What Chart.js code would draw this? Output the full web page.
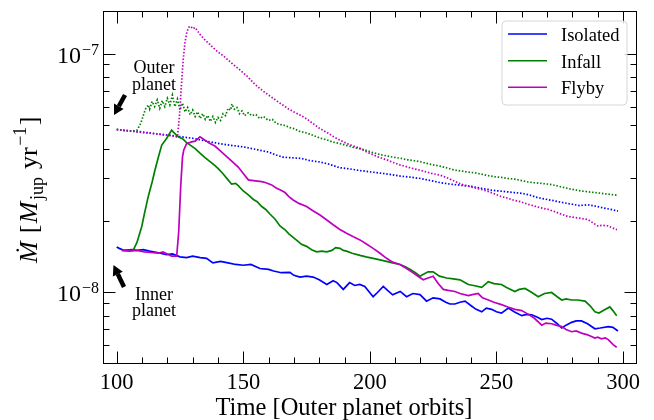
<!DOCTYPE html>
<html>
<head>
<meta charset="utf-8">
<script src="https://cdn.jsdelivr.net/npm/chart.js@4.4.1/dist/chart.umd.min.js"></script>
<style>
  html, body { margin: 0; padding: 0; background: #fff; }
  #wrap { width: 654px; height: 420px; }
</style>
</head>
<body>
<div id="wrap"><canvas id="mdotChart" width="654" height="420"></canvas></div>
<script>
// accretion rates, values in units of 1e-8 Mjup/yr, time in outer planet orbits
const UNIT = 1e-8;
const xTickValues = [100, 150, 200, 250, 300];
const yDecades = [1e-8, 1e-7];
const seriesNames = ['Isolated', 'Infall', 'Flyby'];
const seriesColors = ['#0000ff', '#008000', '#bf00bf'];
const xTitle = 'Time [Outer planet orbits]';

// outer planet (dotted)
const isolatedOuter = [[100,4.81],[105,4.75],[110,4.70],[115,4.62],[120,4.56],[125,4.49],[130,4.42],[135,4.31],[140,4.21],[145,4.13],[150,4.07],[155,3.97],[160,3.87],[163,3.76],[166,3.68],[170,3.66],[173,3.64],[176,3.57],[180,3.52],[184,3.44],[188,3.33],[192,3.29],[196,3.24],[200,3.20],[204,3.16],[208,3.12],[212,3.07],[216,3.04],[220,3.00],[224,2.94],[228,2.88],[232,2.84],[236,2.81],[240,2.78],[244,2.73],[248,2.68],[251,2.66],[254,2.64],[257,2.62],[260,2.60],[263,2.56],[266,2.50],[269,2.46],[272,2.43],[276,2.38],[280,2.34],[283,2.31],[286,2.33],[289,2.30],[292,2.26],[295,2.23],[298,2.19]];

const infallOuter = [[100,4.81],[103,4.76],[106,4.74],[108,4.78],[109.5,5.1],[110.5,5.5],[111.5,5.9],[112.5,6.1],[113,5.85],[114,6.3],[115,6.0],[116,6.4],[117,5.9],[118,6.35],[119,6.0],[120,6.5],[121,6.1],[122,6.7],[123,6.0],[124,6.45],[125,5.8],[126,6.2],[127,5.7],[128,5.95],[129,5.55],[130,5.8],[131,5.45],[132,5.7],[133,5.35],[134,5.6],[135,5.3],[136,5.5],[137,5.2],[138,5.45],[139,5.15],[140,5.4],[141,5.25],[142,5.6],[143,5.5],[144,5.9],[145,5.8],[145.5,6.15],[146.5,5.85],[147.5,5.95],[148.5,5.6],[149.5,5.75],[150.5,5.5],[152,5.65],[153.3,5.5],[155,5.55],[156.5,5.35],[158,5.45],[159.9,5.25],[161.5,5.3],[163,5.1],[164.5,5.05],[166.5,5.0],[168.5,4.9],[170,4.85],[172.4,4.72],[175,4.65],[177.5,4.55],[180.3,4.43],[183,4.35],[185.5,4.26],[188.2,4.2],[191,4.12],[193.5,4.05],[196.1,4.0],[199,3.92],[201.5,3.84],[204,3.78],[207,3.72],[209.5,3.68],[211.9,3.65],[215,3.59],[217.5,3.56],[219.8,3.53],[222.5,3.47],[225,3.42],[227.7,3.38],[230.5,3.32],[233.6,3.25],[236.5,3.22],[238.5,3.19],[241.5,3.17],[244.5,3.12],[247,3.08],[249.4,3.05],[252,3.03],[254.5,3.0],[257.3,2.98],[260,2.94],[262.5,2.90],[265.2,2.88],[268,2.86],[270.5,2.84],[273.1,2.81],[276,2.76],[278.5,2.72],[281,2.69],[283.5,2.66],[286,2.64],[288.9,2.62],[291.5,2.60],[294,2.58],[296.8,2.56],[298,2.55]];

const flybyOuter = [[100,4.81],[105,4.74],[110,4.67],[115,4.62],[120,4.55],[122,4.52],[124,4.47],[124.8,5.5],[125.5,7.2],[126.3,9.5],[127,11.2],[127.8,12.4],[128.5,12.9],[129.3,13.0],[130,12.7],[131,12.85],[132,12.4],[133,12.0],[134.9,11.4],[136.5,11.0],[138,10.6],[140,10.15],[142,9.8],[144,9.4],[146,9.0],[148,8.66],[150,8.3],[152,7.95],[154,7.55],[155.8,7.25],[158,6.95],[160,6.7],[161.8,6.5],[163.7,6.28],[166,6.05],[168,5.85],[170,5.7],[172.4,5.53],[175,5.33],[177.5,5.1],[180.3,4.85],[183,4.68],[185.5,4.5],[188.2,4.34],[191,4.2],[193.5,4.1],[196.1,4.01],[199,3.86],[201.5,3.76],[204,3.67],[207,3.58],[209.5,3.49],[211.9,3.42],[215,3.35],[217.5,3.29],[219.8,3.25],[222.5,3.19],[225,3.14],[227.7,3.10],[230.5,3.02],[233.6,2.92],[236,2.84],[238.8,2.79],[241.5,2.74],[244,2.70],[246.6,2.65],[249.5,2.58],[252,2.52],[254.5,2.48],[257,2.43],[259.5,2.40],[262.4,2.34],[265,2.30],[267.5,2.26],[270.3,2.23],[273,2.18],[275.5,2.13],[278.2,2.08],[281,2.06],[283.5,2.04],[286.1,2.02],[288,1.96],[290,1.90],[292,1.91],[294,1.90],[296,1.86],[297.6,1.83]];

// inner planet (solid)
const isolatedInner = [[100,1.55],[101,1.53],[103,1.50],[106,1.51],[108,1.50],[110.5,1.51],[113,1.49],[116,1.47],[119.7,1.44],[122,1.45],[125,1.41],[127.6,1.40],[130,1.42],[133,1.40],[135.5,1.39],[138,1.33],[141,1.35],[144,1.33],[147,1.31],[150,1.30],[153,1.31],[156.6,1.26],[160,1.25],[162,1.23],[165,1.21],[168.4,1.215],[170,1.18],[172.4,1.16],[175,1.17],[177.6,1.16],[180,1.13],[183,1.08],[185.5,1.12],[187,1.10],[189.5,1.03],[192,1.10],[194,1.07],[196,1.08],[198,1.06],[201.3,0.96],[203,1.0],[205.3,1.06],[207,1.02],[209,0.978],[212,1.01],[214.5,0.96],[217,0.99],[219.8,0.98],[222.4,0.92],[225,0.95],[227.7,0.94],[230,0.91],[231.6,0.895],[233.6,0.895],[235.6,0.91],[237.6,0.92],[240,0.88],[242,0.85],[244.2,0.83],[246,0.86],[248.1,0.85],[250,0.83],[252,0.82],[254.7,0.86],[257,0.83],[260,0.80],[262,0.81],[263.9,0.807],[266,0.79],[267.9,0.77],[270,0.78],[271.8,0.773],[274,0.74],[275.8,0.71],[277.5,0.73],[279.7,0.75],[281.5,0.76],[283.6,0.76],[286,0.74],[288.9,0.705],[291,0.71],[294.2,0.72],[296,0.715],[298,0.69]];

const infallInner = [[102,1.50],[104,1.50],[106.5,1.50],[108,1.62],[109.9,1.89],[111,2.15],[112.5,2.53],[114,2.90],[115.1,3.25],[116.5,3.70],[117.8,4.14],[119.7,4.41],[121,4.65],[121.7,4.78],[122.5,4.68],[124.3,4.48],[126,4.40],[127.5,4.25],[129.6,4.10],[131,4.00],[133,3.82],[134.9,3.67],[137,3.52],[138.5,3.42],[140.1,3.30],[142,3.14],[144,2.96],[145.4,2.84],[147,2.86],[148,2.80],[150,2.66],[152,2.56],[154,2.45],[155.5,2.40],[157.3,2.29],[159,2.22],[160.5,2.13],[162.5,2.03],[164.5,1.90],[166.5,1.83],[168,1.76],[169.7,1.70],[171.5,1.64],[173,1.59],[175,1.56],[177,1.51],[179,1.48],[181,1.49],[183,1.48],[185,1.50],[186.5,1.54],[188.2,1.53],[189.5,1.50],[190.8,1.49],[193,1.46],[196.1,1.43],[198.5,1.41],[201.3,1.39],[204,1.37],[206.6,1.35],[209,1.33],[211.9,1.31],[214,1.28],[215.8,1.25],[218,1.21],[219.8,1.17],[221,1.19],[223,1.22],[225,1.22],[227.5,1.17],[230.3,1.15],[233,1.14],[235.6,1.13],[237,1.11],[238.9,1.08],[241,1.07],[244.2,1.05],[246.8,1.11],[249,1.09],[252,1.08],[254,1.05],[257.3,1.01],[259,1.03],[261.3,1.04],[264,1.00],[266.5,0.96],[269,0.99],[271.8,1.00],[274,0.96],[275.8,0.93],[277.5,0.94],[279.7,0.93],[282,0.93],[285,0.92],[287,0.88],[288.9,0.83],[290.5,0.82],[292.2,0.84],[294.8,0.87],[296,0.84],[297.5,0.80]];

const flybyInner = [[102,1.50],[105,1.49],[108,1.50],[111,1.48],[113.5,1.47],[116.3,1.46],[118.3,1.48],[120,1.45],[121.7,1.42],[123.7,1.42],[124.5,1.80],[125.3,2.80],[126,3.70],[126.5,3.95],[127.6,4.20],[129.6,4.27],[131,4.30],[132.9,4.48],[134.9,4.34],[136.5,4.22],[138.8,4.10],[140.5,3.95],[142.8,3.76],[145,3.58],[148,3.35],[150,3.15],[152,2.96],[154,2.94],[157.3,2.91],[159,2.88],[161.2,2.82],[163,2.74],[164.5,2.69],[166.5,2.62],[168,2.52],[169.7,2.44],[172,2.36],[175,2.29],[177.5,2.20],[180.3,2.11],[183,2.01],[185.5,1.92],[188,1.84],[190.8,1.77],[193.5,1.71],[196.1,1.66],[198.5,1.60],[201.3,1.53],[204,1.46],[206.6,1.39],[209,1.34],[211.9,1.31],[214.5,1.26],[217.1,1.21],[219,1.17],[221.1,1.13],[223,1.15],[225,1.17],[227,1.09],[229,1.03],[231,1.02],[233.6,1.01],[235.6,0.99],[238.9,0.97],[240.5,0.98],[242.8,0.99],[244.5,0.95],[246.8,0.93],[249,0.91],[252,0.89],[254.5,0.87],[257.3,0.85],[260,0.84],[262.6,0.81],[265,0.78],[267.9,0.73],[269.5,0.745],[271.8,0.74],[273.5,0.73],[275.8,0.72],[277.5,0.70],[279.7,0.685],[281.5,0.69],[283.6,0.676],[286,0.665],[288.9,0.645],[290,0.65],[291.5,0.64],[293,0.645],[294.2,0.635],[296.1,0.605],[297.5,0.59]];

const SERIF = "'Liberation Serif', 'Times New Roman', 'DejaVu Serif', serif";

function makeSet(label, color, pairs, dotted, order) {
  return {
    label: label,
    data: pairs.map(p => ({ x: p[0], y: p[1] * UNIT })),
    borderColor: color,
    backgroundColor: color,
    borderWidth: dotted ? 1.7 : 1.7,
    borderDash: dotted ? [1.5, 1.8] : [],
    pointRadius: 0,
    tension: 0,
    fill: false,
    order: order
  };
}

// frame, inward ticks, labels, legend and notes
const decorPlugin = {
  id: 'decor',
  afterDraw(chart) {
    const { ctx, chartArea: a, scales } = chart;
    const xs = scales.x, ys = scales.y;
    ctx.save();
    ctx.strokeStyle = '#000';
    ctx.lineWidth = 1;

    const L = Math.round(a.left) + 0.5, R = Math.round(a.right) - 0.5;
    const T = Math.round(a.top) + 0.5, B = Math.round(a.bottom) - 0.5;
    ctx.strokeRect(L, T, R - L, B - T);

    // x ticks (bottom + top)
    ctx.beginPath();
    for (let t = 100; t <= 300; t += 10) {
      const px = Math.round(xs.getPixelForValue(t)) + 0.5;
      const len = (t % 50 === 0) ? 12 : 6;
      ctx.moveTo(px, B); ctx.lineTo(px, B - len);
      ctx.moveTo(px, T); ctx.lineTo(px, T + len);
    }
    // y ticks (left + right)
    [1e-9, 1e-8, 1e-7].forEach(dec => {
      for (let m = 1; m <= 9; m++) {
        const v = m * dec;
        if (v < ys.min || v > ys.max) continue;
        const py = Math.round(ys.getPixelForValue(v)) + 0.5;
        const len = (m === 1) ? 12 : 6;
        ctx.moveTo(L, py); ctx.lineTo(L + len, py);
        ctx.moveTo(R, py); ctx.lineTo(R - len, py);
      }
    });
    ctx.stroke();

    // y tick labels 10^-n
    ctx.fillStyle = '#000';
    ctx.textBaseline = 'alphabetic';
    yDecades.forEach(v => {
      const py = ys.getPixelForValue(v);
      const exp = '\u2212' + Math.round(-Math.log10(v));
      ctx.font = '16px ' + SERIF;
      const ew = ctx.measureText(exp).width;
      ctx.textAlign = 'left';
      ctx.fillText(exp, 99 - ew, py + 1);
      ctx.font = '24px ' + SERIF;
      ctx.textAlign = 'right';
      ctx.fillText('10', 99 - ew - 1, py + 9);
    });

    // x title
    ctx.font = '24.5px ' + SERIF;
    ctx.textAlign = 'center';
    ctx.fillText(xTitle, 344, 415);

    // y title: M-dot [M_jup yr^-1]
    ctx.save();
    ctx.translate(37, 189);
    ctx.rotate(-Math.PI / 2);
    const big = '26px ' + SERIF, bigIt = 'italic 26px ' + SERIF, small = '18px ' + SERIF;
    const parts = [
      { s: 'M', f: bigIt, dy: 0, dot: true },
      { s: ' [', f: big, dy: 0 },
      { s: 'M', f: bigIt, dy: 0 },
      { s: 'jup', f: small, dy: 6 },
      { s: ' yr', f: big, dy: 0 },
      { s: '\u22121', f: small, dy: -11 },
      { s: ']', f: big, dy: 0 }
    ];
    let total = 0;
    parts.forEach(p => { ctx.font = p.f; p.w = ctx.measureText(p.s).width; total += p.w + 1.5; });
    let cx = -total / 2;
    ctx.textAlign = 'left';
    parts.forEach(p => {
      ctx.font = p.f;
      ctx.fillText(p.s, cx, p.dy);
      if (p.dot) {
        ctx.font = big;
        ctx.textAlign = 'center';
        ctx.fillText('\u02D9', cx + p.w / 2 + 2, -4);
        ctx.textAlign = 'left';
      }
      cx += p.w + 1.5;
    });
    ctx.restore();

    // legend box
    const bx = 502, by = 21, bw = 125, bh = 84, r = 4;
    ctx.beginPath();
    ctx.moveTo(bx + r, by);
    ctx.arcTo(bx + bw, by, bx + bw, by + bh, r);
    ctx.arcTo(bx + bw, by + bh, bx, by + bh, r);
    ctx.arcTo(bx, by + bh, bx, by, r);
    ctx.arcTo(bx, by, bx + bw, by, r);
    ctx.closePath();
    ctx.fillStyle = 'rgba(255,255,255,0.8)';
    ctx.fill();
    ctx.strokeStyle = '#d6d6d6';
    ctx.lineWidth = 1;
    ctx.stroke();
    const rows = [34, 60.7, 87.3];
    ctx.font = '18.5px ' + SERIF;
    ctx.textAlign = 'left';
    seriesNames.forEach((name, i) => {
      ctx.strokeStyle = seriesColors[i];
      ctx.lineWidth = 1.5;
      ctx.beginPath();
      ctx.moveTo(508, rows[i]); ctx.lineTo(547, rows[i]);
      ctx.stroke();
      ctx.fillStyle = '#000';
      ctx.fillText(name, 561, rows[i] + 7);
    });

    // notes and arrows
    ctx.fillStyle = '#000';
    ctx.font = '18px ' + SERIF;
    ctx.textAlign = 'center';
    ctx.fillText('Outer', 154, 73);
    ctx.fillText('planet', 154, 90);
    ctx.fillText('Inner', 154, 300);
    ctx.fillText('planet', 154, 316);
    drawArrow(ctx, 125, 95, 114, 115);
    drawArrow(ctx, 124, 287, 113.5, 265);
    ctx.restore();
  }
};

function drawArrow(ctx, x0, y0, x1, y1) {
  const ang = Math.atan2(y1 - y0, x1 - x0);
  const head = 10, hw = 5.5;
  const bx = x1 - head * Math.cos(ang), by = y1 - head * Math.sin(ang);
  ctx.strokeStyle = '#000';
  ctx.lineWidth = 4.5;
  ctx.lineCap = 'butt';
  ctx.beginPath();
  ctx.moveTo(x0, y0); ctx.lineTo(bx, by);
  ctx.stroke();
  ctx.beginPath();
  ctx.moveTo(x1, y1);
  ctx.lineTo(bx + hw * Math.sin(ang), by - hw * Math.cos(ang));
  ctx.lineTo(bx - hw * Math.sin(ang), by + hw * Math.cos(ang));
  ctx.closePath();
  ctx.fill();
}

const chart = new Chart(document.getElementById('mdotChart').getContext('2d'), {
  type: 'line',
  data: {
    datasets: [
      makeSet(seriesNames[0] + ' (outer)', seriesColors[0], isolatedOuter, true, 5),
      makeSet(seriesNames[1] + ' (outer)', seriesColors[1], infallOuter, true, 4),
      makeSet(seriesNames[2] + ' (outer)', seriesColors[2], flybyOuter, true, 3),
      makeSet(seriesNames[0], seriesColors[0], isolatedInner, false, 2),
      makeSet(seriesNames[1], seriesColors[1], infallInner, false, 1),
      makeSet(seriesNames[2], seriesColors[2], flybyInner, false, 0)
    ]
  },
  options: {
    responsive: false,
    devicePixelRatio: 1,
    animation: false,
    layout: { padding: { left: 0, top: 11, right: 17.5, bottom: 0 } },
    plugins: {
      legend: { display: false },
      tooltip: { enabled: false }
    },
    scales: {
      x: {
        type: 'linear',
        min: 94.59,
        max: 305.33,
        grid: { display: false, drawTicks: false },
        border: { display: false },
        afterBuildTicks: s => { s.ticks = xTickValues.map(v => ({ value: v })); },
        afterFit: s => { s.height = 56; },
        ticks: {
          autoSkip: false,
          maxRotation: 0,
          padding: 6,
          color: '#000',
          font: { family: SERIF, size: 22.5 }
        }
      },
      y: {
        type: 'logarithmic',
        min: 5.02e-9,
        max: 1.507e-7,
        grid: { display: false, drawTicks: false },
        border: { display: false },
        ticks: { display: false },
        afterFit: s => { s.width = 103; }
      }
    }
  },
  plugins: [decorPlugin]
});
</script>
</body>
</html>
